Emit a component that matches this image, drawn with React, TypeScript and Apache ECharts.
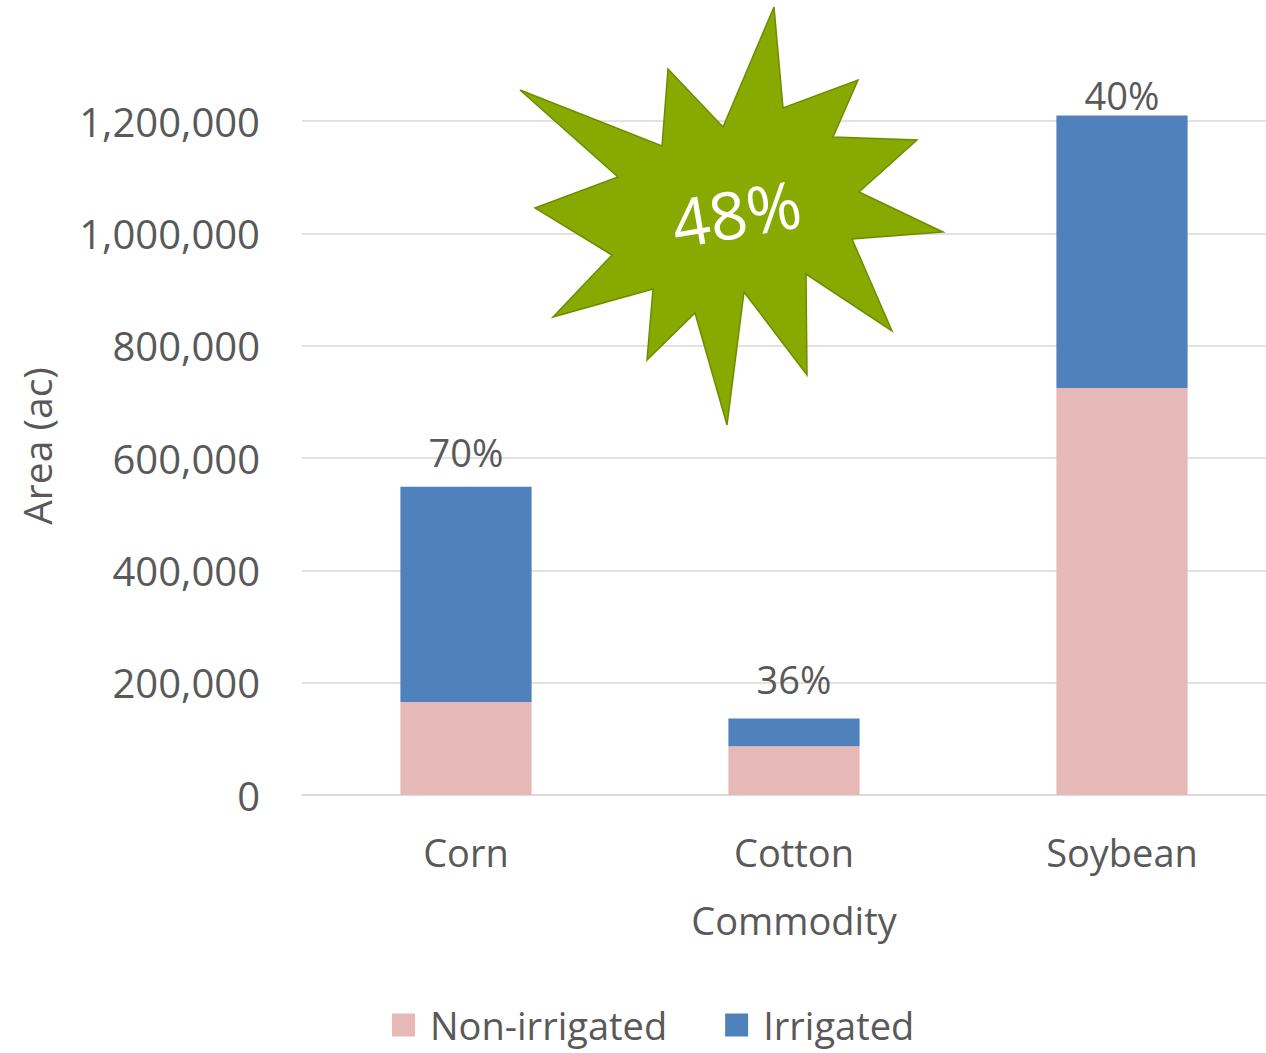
import React, { useEffect, useRef } from "react";
import * as echarts from "echarts";

const categories = ["Corn", "Cotton", "Soybean"];
const nonIrrigated = [165600, 87000, 724600];
const irrigated = [383000, 49000, 485000];
const shareLabels = ["70%", "36%", "40%"];
const seriesNames = ["Non-irrigated", "Irrigated"];
const axisMin = 0;
const axisMax = 1200000;
const axisStep = 200000;
const badgeText = "48%";

const FONT = "'Open Sans', 'Noto Sans', sans-serif";
const GRAY = "#595959";

export default function App() {
  const ref = useRef<HTMLDivElement>(null);

  useEffect(() => {
    if (!ref.current) return;
    const chart = echarts.init(ref.current, undefined, { renderer: "svg" });

    const starPoints = [
      [774, 7], [783, 108], [858, 80], [833, 137], [917, 140], [859, 192],
      [943, 232], [852, 239], [892, 331], [806, 274], [807, 375], [744, 292],
      [727, 425], [695, 313], [647, 360], [653, 289], [553, 317], [612, 255],
      [535, 208], [618, 177], [520, 90], [662, 146], [668, 69], [723, 127],
    ];
    const labelGaps = [16, 21, 2];

    const option: any = {
      animation: false,
      textStyle: { fontFamily: FONT },
      grid: { left: 302, right: 4, top: 121, bottom: 258, containLabel: false },
      legend: {
        left: 387,
        top: 1001,
        icon: "rect",
        itemWidth: 23,
        itemHeight: 23,
        itemGap: 58,
        textStyle: {
          fontSize: 38,
          color: GRAY,
          fontFamily: FONT,
          padding: [0, 0, 0, 10],
        },
        data: seriesNames,
      },
      xAxis: {
        type: "category",
        data: categories,
        name: "Commodity",
        nameLocation: "middle",
        nameGap: 106,
        nameTextStyle: { fontSize: 38, color: GRAY, fontFamily: FONT },
        axisLine: { show: true, lineStyle: { color: "#D9D9D9", width: 1.5 } },
        axisTick: { show: false },
        axisLabel: { fontSize: 38, color: GRAY, fontFamily: FONT, margin: 38 },
      },
      yAxis: {
        type: "value",
        min: axisMin,
        max: axisMax,
        interval: axisStep,
        name: "Area (ac)",
        nameLocation: "middle",
        nameGap: 246,
        nameRotate: 90,
        nameTextStyle: { fontSize: 39, color: GRAY, fontFamily: FONT, padding: [0, 0, 0, 24] },
        axisLine: { show: false },
        axisTick: { show: false },
        splitLine: { lineStyle: { color: "#D9D9D9", width: 1.5 } },
        axisLabel: {
          fontSize: 40,
          color: GRAY,
          fontFamily: FONT,
          margin: 42,
          formatter: (v: number) => v.toLocaleString("en-US"),
        },
      },
      series: [
        {
          name: seriesNames[0],
          type: "bar",
          stack: "total",
          barCategoryGap: "60%",
          clip: false,
          itemStyle: { color: "#E6B9B8" },
          data: nonIrrigated,
        },
        {
          name: seriesNames[1],
          type: "bar",
          stack: "total",
          barCategoryGap: "60%",
          clip: false,
          itemStyle: { color: "#4F81BD" },
          label: {
            show: true,
            position: "top",
            distance: 16,
            fontSize: 38,
            color: GRAY,
            fontFamily: FONT,
            formatter: (p: any) => shareLabels[p.dataIndex],
          },
          data: irrigated.map((v, i) => ({ value: v, label: { distance: labelGaps[i] } })),
        },
      ],
      graphic: [
        {
          type: "polygon",
          z: 100,
          shape: { points: starPoints },
          style: { fill: "#88AA00", stroke: "#6E8C00", lineWidth: 1.5 },
        },
        {
          type: "text",
          z: 101,
          x: 736,
          y: 212,
          rotation: 0.17,
          style: {
            text: badgeText,
            fill: "#FFFFFF",
            font: `66px ${FONT}`,
            align: "center",
            verticalAlign: "middle",
          },
        },
      ],
    };

    chart.setOption(option);
    return () => chart.dispose();
  }, []);

  return (
    <div
      style={{
        position: "fixed",
        left: 0,
        top: 0,
        width: 1266,
        height: 1053,
        overflow: "hidden",
        background: "#fff",
      }}
    >
      <div ref={ref} style={{ width: 1290, height: 1053 }} />
    </div>
  );
}
